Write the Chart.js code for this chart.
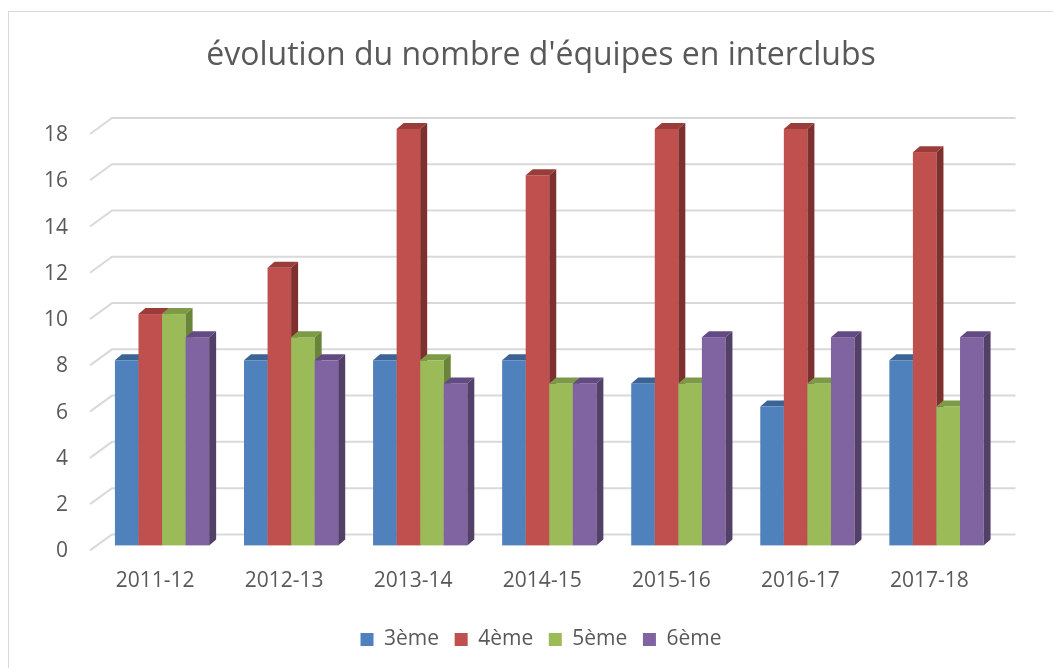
<!DOCTYPE html>
<html>
<head>
<meta charset="utf-8">
<script src="https://cdn.jsdelivr.net/npm/chart.js@4.4.1/dist/chart.umd.min.js"></script>
<style>
  html, body { margin: 0; padding: 0; background: #ffffff; overflow: hidden; }
  #wrap { width: 1082px; height: 668px; position: relative; }
</style>
</head>
<body>
<div id="wrap"><canvas id="c" width="1082" height="668"></canvas></div>
<script>
// ---- data ----
const categories = ['2011-12', '2012-13', '2013-14', '2014-15', '2015-16', '2016-17', '2017-18'];
const seriesNames = ['3ème', '4ème', '5ème', '6ème'];
const values3eme = [8, 8, 8, 8, 7, 6, 8];
const values4eme = [10, 12, 18, 16, 18, 18, 17];
const values5eme = [10, 9, 8, 7, 7, 7, 6];
const values6eme = [9, 8, 7, 7, 9, 9, 9];
const yTickValues = [0, 2, 4, 6, 8, 10, 12, 14, 16, 18];

// ---- styles ----
const frontColors = ['#4F81BD', '#C0504D', '#9BBB59', '#8064A2'];
const topColors   = ['#3B6496', '#9A3D3A', '#7D9A46', '#624B83'];
const sideColors  = ['#355A87', '#7E302E', '#6A8538', '#524068'];
const textColor = '#595959';
const gridColor = '#d9d9d9';
const FONT = "'Open Sans', 'DejaVu Sans', sans-serif";

// 3D projection offsets (pixels)
const BAR_DX = 7, BAR_DY = -6;       // bar depth
const WALL_DX = 14.5, WALL_DY = -11; // back wall relative to bar front plane
const FLOOR_DX = -7.5, FLOOR_DY = 5; // front edge of floor relative to bar front plane

const allValues = [values3eme, values4eme, values5eme, values6eme];

const frame3d = {
  id: 'frame3d',
  beforeDraw(chart) {
    const ctx = chart.ctx;
    ctx.save();
    ctx.fillStyle = '#ffffff';
    ctx.fillRect(0, 0, chart.width, chart.height);
    ctx.strokeStyle = gridColor;
    ctx.lineWidth = 1;
    ctx.strokeRect(8.5, 11.5, 1200, 800);
    ctx.restore();
  },
  beforeDatasetsDraw(chart) {
    const ctx = chart.ctx;
    const y = chart.scales.y;
    const area = chart.chartArea;
    ctx.save();
    ctx.strokeStyle = gridColor;
    ctx.lineWidth = 2;
    yTickValues.forEach(v => {
      const py = y.getPixelForValue(v);
      ctx.beginPath();
      ctx.moveTo(area.left + FLOOR_DX, py + FLOOR_DY);
      ctx.lineTo(area.left + WALL_DX, py + WALL_DY);
      ctx.lineTo(area.right + WALL_DX, py + WALL_DY);
      ctx.stroke();
    });
    ctx.restore();

    // 3D bars, category by category, left to right (painter's order)
    ctx.save();
    for (let i = 0; i < categories.length; i++) {
      for (let d = 0; d < chart.data.datasets.length; d++) {
        const meta = chart.getDatasetMeta(d);
        if (meta.hidden) continue;
        const bar = meta.data[i];
        if (!bar) continue;
        const { x, y: yt, base: yb, width } = bar.getProps(['x', 'y', 'base', 'width'], true);
        const x0 = x - width / 2, x1 = x + width / 2;
        ctx.fillStyle = frontColors[d];
        ctx.fillRect(x0, yt, x1 - x0, yb - yt);
        ctx.fillStyle = topColors[d];
        ctx.beginPath();
        ctx.moveTo(x0, yt);
        ctx.lineTo(x0 + BAR_DX, yt + BAR_DY);
        ctx.lineTo(x1 + BAR_DX, yt + BAR_DY);
        ctx.lineTo(x1, yt);
        ctx.closePath();
        ctx.fill();
        ctx.fillStyle = sideColors[d];
        ctx.beginPath();
        ctx.moveTo(x1, yt);
        ctx.lineTo(x1 + BAR_DX, yt + BAR_DY);
        ctx.lineTo(x1 + BAR_DX, yb + BAR_DY);
        ctx.lineTo(x1, yb);
        ctx.closePath();
        ctx.fill();
      }
    }
    ctx.restore();
    return false; // skip default flat bars
  }
};

const chart = new Chart(document.getElementById('c'), {
  type: 'bar',
  data: {
    labels: categories,
    datasets: allValues.map((vals, d) => ({
      label: seriesNames[d],
      data: vals,
      backgroundColor: frontColors[d],
      borderWidth: 0,
      categoryPercentage: 0.73,
      barPercentage: 1.0
    }))
  },
  options: {
    responsive: false,
    animation: false,
    devicePixelRatio: 1,
    layout: { padding: { left: 0, right: 0, top: 0, bottom: 8 } },
    plugins: {
      title: {
        display: true,
        text: "évolution du nombre d'équipes en interclubs",
        color: textColor,
        font: { family: FONT, size: 32, weight: 'normal' },
        padding: { top: 37, bottom: 53.6 }
      },
      legend: {
        display: true,
        position: 'bottom',
        labels: {
          color: textColor,
          font: { family: FONT, size: 21 },
          boxWidth: 13,
          boxHeight: 13,
          padding: 15.6
        }
      },
      tooltip: { enabled: false }
    },
    scales: {
      x: {
        grid: { display: false, drawTicks: false },
        border: { display: false },
        ticks: {
          color: textColor,
          font: { family: FONT, size: 21 },
          padding: 23,
          labelOffset: -7,
          maxRotation: 0,
          autoSkip: false
        },
        afterFit(scale) { scale.height = 68; }
      },
      y: {
        min: 0,
        max: 18,
        grid: { display: false, drawTicks: false },
        border: { display: false },
        afterBuildTicks(scale) { scale.ticks = yTickValues.map(v => ({ value: v })); },
        ticks: {
          color: textColor,
          font: { family: FONT, size: 21 },
          padding: 29.5,
          labelOffset: 6
        },
        afterFit(scale) { scale.width = 97.5; }
      },
      yRight: {
        type: 'linear',
        position: 'right',
        display: true,
        grid: { display: false, drawTicks: false },
        border: { display: false },
        ticks: { display: false },
        afterFit(scale) { scale.width = 81; }
      }
    }
  },
  plugins: [frame3d]
});
</script>
</body>
</html>
